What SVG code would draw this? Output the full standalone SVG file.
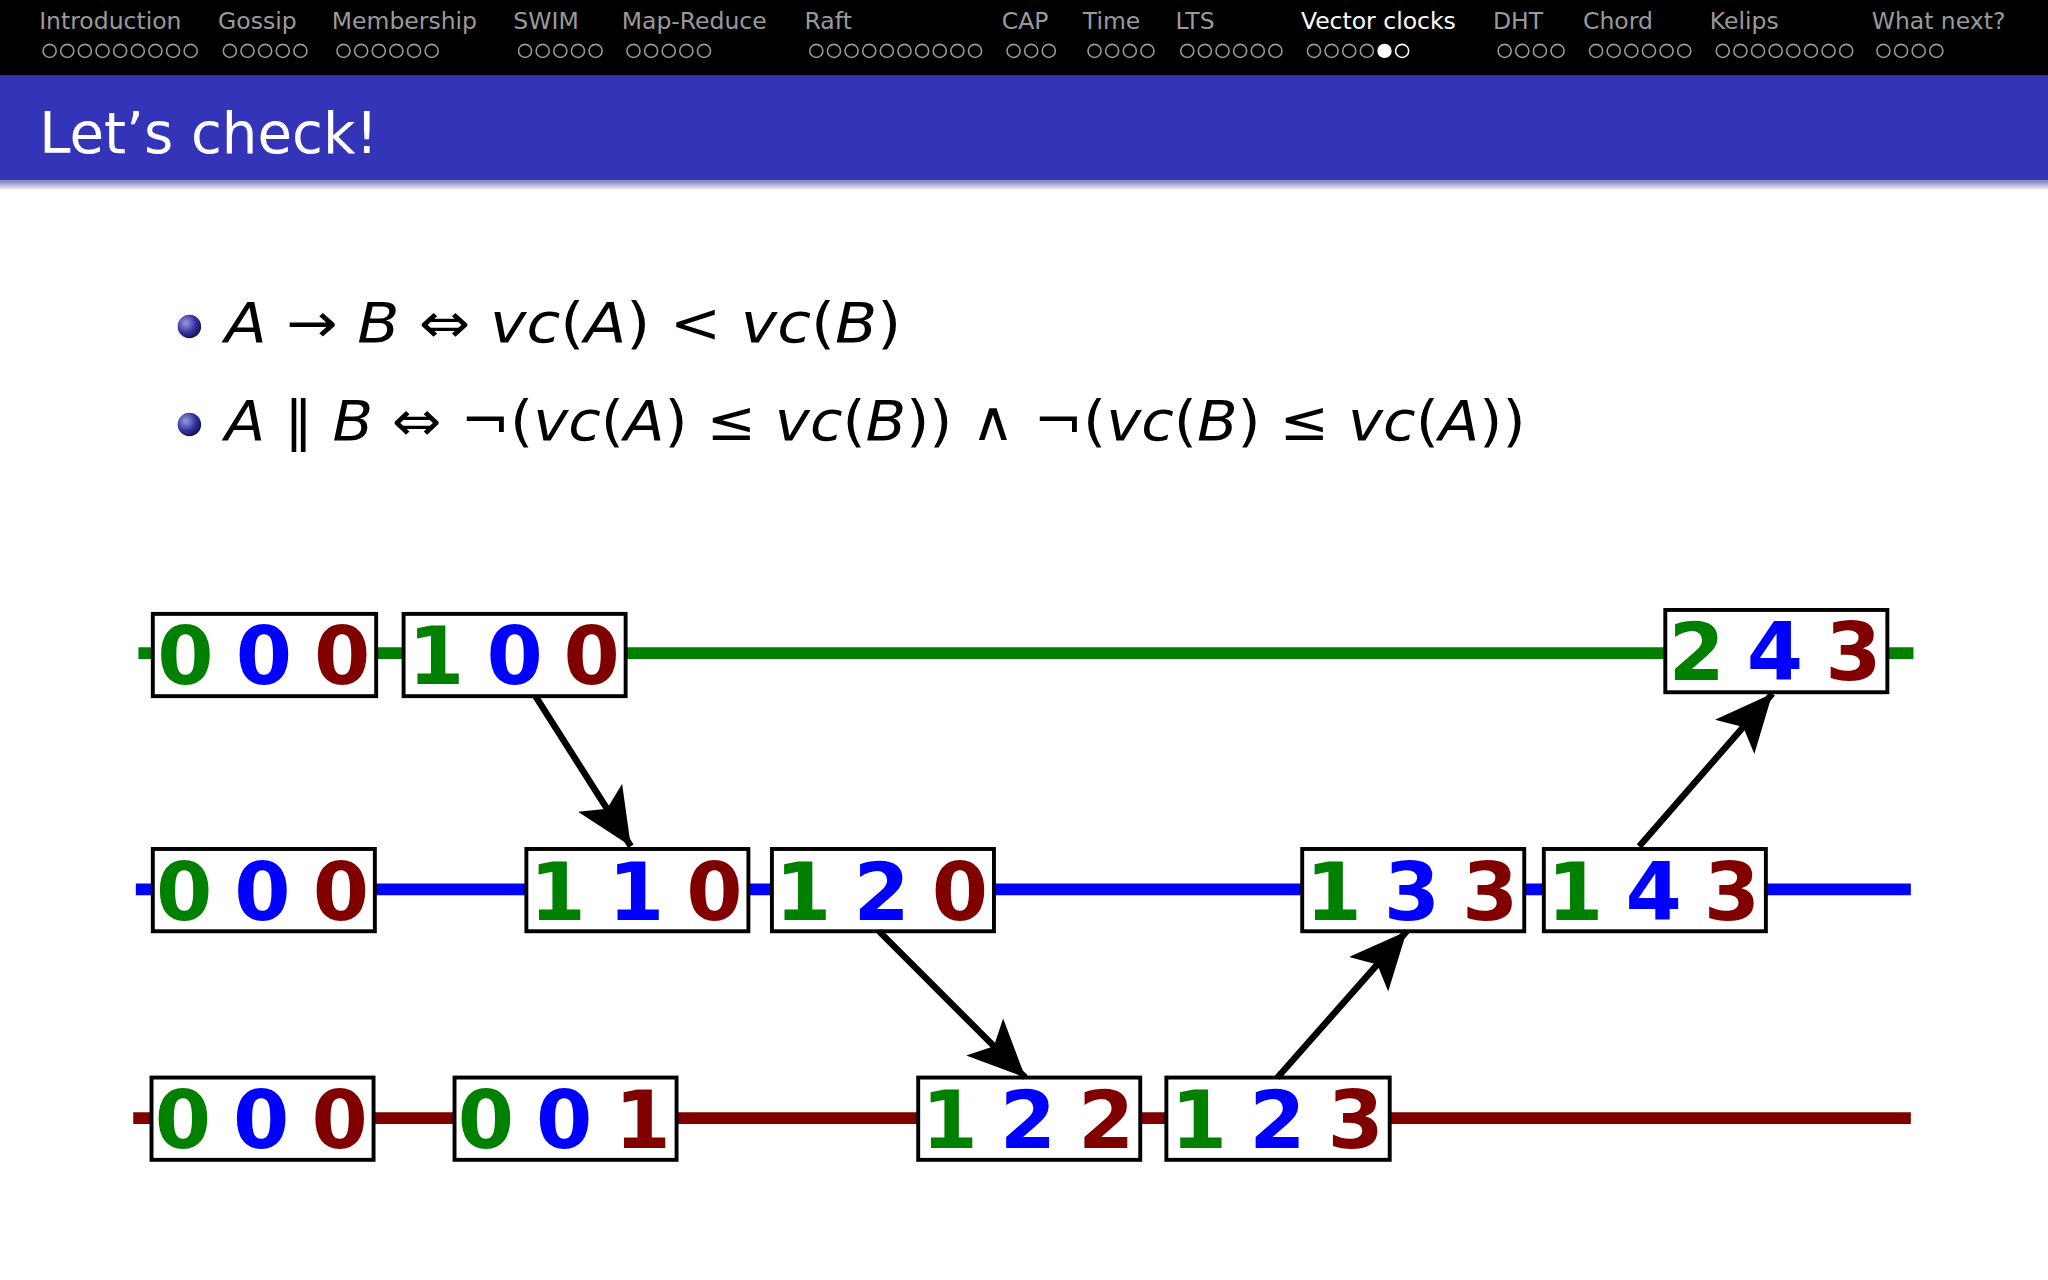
<svg xmlns="http://www.w3.org/2000/svg" width="2048" height="1280" viewBox="0 0 2048 1280">
<defs>
<style>
.nav{font-family:"DejaVu Sans",sans-serif;font-size:18px;fill:#9a9a9a}
.dot{fill:none;stroke:#9a9a9a;stroke-width:1.2}
.math{font-family:"DejaVu Sans",sans-serif;font-size:42px;fill:#000}
.it{font-style:italic}
.box{fill:#fff;stroke:#000;stroke-width:3}
.d{font-family:"DejaVu Sans",sans-serif;font-size:62px;font-weight:bold;text-anchor:middle}
.g{fill:#008000}.b{fill:#0000ff}.r{fill:#800000}
.arr{stroke:#000;stroke-width:5;fill:none;marker-end:url(#ah)}
</style>
<marker id="ah" markerUnits="userSpaceOnUse" markerWidth="50" markerHeight="44" refX="44" refY="20" orient="auto"><path d="M0,0 L44,20 L0,40 L10,20 Z" fill="#000"/></marker>
<linearGradient id="sh" x1="0" y1="0" x2="0" y2="1"><stop offset="0" stop-color="#7777bb"/><stop offset="1" stop-color="#fff"/></linearGradient>
<radialGradient id="ball" cx="0.35" cy="0.35" r="0.7"><stop offset="0" stop-color="#9a9ae0"/><stop offset="0.6" stop-color="#3333a0"/><stop offset="1" stop-color="#10104a"/></radialGradient>
</defs>
<rect width="2048" height="1280" fill="#fff"/>
<g transform="scale(1.30612)">
<g id="header">
<rect x="0" y="0" width="1568" height="58" fill="#000"/>
<text class="nav" x="30" y="22">Introduction</text>
<text class="nav" x="167" y="22">Gossip</text>
<text class="nav" x="254" y="22">Membership</text>
<text class="nav" x="393" y="22">SWIM</text>
<text class="nav" x="476" y="22">Map-Reduce</text>
<text class="nav" x="616" y="22">Raft</text>
<text class="nav" x="767" y="22">CAP</text>
<text class="nav" x="829" y="22">Time</text>
<text class="nav" x="900" y="22">LTS</text>
<text class="nav" x="996" y="22" style="fill:#fff">Vector clocks</text>
<text class="nav" x="1143" y="22">DHT</text>
<text class="nav" x="1212" y="22">Chord</text>
<text class="nav" x="1309" y="22">Kelips</text>
<text class="nav" x="1433" y="22">What next?</text>
<g class="dot">
<circle cx="38" cy="39" r="5"/><circle cx="51.5" cy="39" r="5"/><circle cx="65" cy="39" r="5"/><circle cx="78.5" cy="39" r="5"/><circle cx="92" cy="39" r="5"/><circle cx="105.5" cy="39" r="5"/><circle cx="119" cy="39" r="5"/><circle cx="132.5" cy="39" r="5"/><circle cx="146" cy="39" r="5"/>
<circle cx="176" cy="39" r="5"/><circle cx="189.5" cy="39" r="5"/><circle cx="203" cy="39" r="5"/><circle cx="216.5" cy="39" r="5"/><circle cx="230" cy="39" r="5"/>
<circle cx="263" cy="39" r="5"/><circle cx="276.5" cy="39" r="5"/><circle cx="290" cy="39" r="5"/><circle cx="303.5" cy="39" r="5"/><circle cx="317" cy="39" r="5"/><circle cx="330.5" cy="39" r="5"/>
<circle cx="402" cy="39" r="5"/><circle cx="415.5" cy="39" r="5"/><circle cx="429" cy="39" r="5"/><circle cx="442.5" cy="39" r="5"/><circle cx="456" cy="39" r="5"/>
<circle cx="485" cy="39" r="5"/><circle cx="498.5" cy="39" r="5"/><circle cx="512" cy="39" r="5"/><circle cx="525.5" cy="39" r="5"/><circle cx="539" cy="39" r="5"/>
<circle cx="625" cy="39" r="5"/><circle cx="638.5" cy="39" r="5"/><circle cx="652" cy="39" r="5"/><circle cx="665.5" cy="39" r="5"/><circle cx="679" cy="39" r="5"/><circle cx="692.5" cy="39" r="5"/><circle cx="706" cy="39" r="5"/><circle cx="719.5" cy="39" r="5"/><circle cx="733" cy="39" r="5"/><circle cx="746.5" cy="39" r="5"/>
<circle cx="776" cy="39" r="5"/><circle cx="789.5" cy="39" r="5"/><circle cx="803" cy="39" r="5"/>
<circle cx="838" cy="39" r="5"/><circle cx="851.5" cy="39" r="5"/><circle cx="865" cy="39" r="5"/><circle cx="878.5" cy="39" r="5"/>
<circle cx="909" cy="39" r="5"/><circle cx="922.5" cy="39" r="5"/><circle cx="936" cy="39" r="5"/><circle cx="949.5" cy="39" r="5"/><circle cx="963" cy="39" r="5"/><circle cx="976.5" cy="39" r="5"/>
<circle cx="1006" cy="39" r="5"/><circle cx="1019.5" cy="39" r="5"/><circle cx="1033" cy="39" r="5"/><circle cx="1046.5" cy="39" r="5"/><circle cx="1073.5" cy="39" r="5" style="stroke:#fff"/>
<circle cx="1152" cy="39" r="5"/><circle cx="1165.5" cy="39" r="5"/><circle cx="1179" cy="39" r="5"/><circle cx="1192.5" cy="39" r="5"/>
<circle cx="1222" cy="39" r="5"/><circle cx="1235.5" cy="39" r="5"/><circle cx="1249" cy="39" r="5"/><circle cx="1262.5" cy="39" r="5"/><circle cx="1276" cy="39" r="5"/><circle cx="1289.5" cy="39" r="5"/>
<circle cx="1319" cy="39" r="5"/><circle cx="1332.5" cy="39" r="5"/><circle cx="1346" cy="39" r="5"/><circle cx="1359.5" cy="39" r="5"/><circle cx="1373" cy="39" r="5"/><circle cx="1386.5" cy="39" r="5"/><circle cx="1400" cy="39" r="5"/><circle cx="1413.5" cy="39" r="5"/>
<circle cx="1442" cy="39" r="5"/><circle cx="1455.5" cy="39" r="5"/><circle cx="1469" cy="39" r="5"/><circle cx="1482.5" cy="39" r="5"/>
</g>
<circle cx="1060" cy="39" r="5.5" fill="#fff"/>
</g>
<g id="title">
<rect x="0" y="58" width="1568" height="80" fill="#3434b8"/>
<rect x="0" y="138" width="1568" height="8" fill="url(#sh)"/>
<text x="30" y="117" style="font-family:'DejaVu Sans',sans-serif;font-size:43px;fill:#fff">Let’s check!</text>
</g>
<g id="bullets">
<circle cx="145" cy="250" r="9" fill="url(#ball)"/>
<circle cx="145" cy="325" r="9" fill="url(#ball)"/>
<text class="math" x="172" y="262" textLength="518" lengthAdjust="spacingAndGlyphs"><tspan class="it">A</tspan> → <tspan class="it">B</tspan> ⇔ <tspan class="it">vc</tspan>(<tspan class="it">A</tspan>) &lt; <tspan class="it">vc</tspan>(<tspan class="it">B</tspan>)</text>
<text class="math" x="172" y="337" textLength="996" lengthAdjust="spacingAndGlyphs"><tspan class="it">A</tspan> ∥ <tspan class="it">B</tspan> ⇔ ¬(<tspan class="it">vc</tspan>(<tspan class="it">A</tspan>) ≤ <tspan class="it">vc</tspan>(<tspan class="it">B</tspan>)) ∧ ¬(<tspan class="it">vc</tspan>(<tspan class="it">B</tspan>) ≤ <tspan class="it">vc</tspan>(<tspan class="it">A</tspan>))</text>
</g>
<g id="timelines">
<line x1="106" y1="500" x2="1465" y2="500" stroke="#008000" stroke-width="9"/>
<line x1="104" y1="681" x2="1463" y2="681" stroke="#0000ff" stroke-width="9"/>
<line x1="102" y1="856" x2="1463" y2="856" stroke="#800000" stroke-width="9"/>
</g>
<g id="g0"><rect class="box" x="117" y="470" width="171" height="63"/><text class="d g" x="142" y="524">0</text><text class="d b" x="202" y="524">0</text><text class="d r" x="262" y="524">0</text></g>
<g id="g1"><rect class="box" x="309" y="470" width="170" height="63"/><text class="d g" x="334" y="524">1</text><text class="d b" x="394" y="524">0</text><text class="d r" x="453" y="524">0</text></g>
<g id="g2"><rect class="box" x="1275" y="467" width="170" height="63"/><text class="d g" x="1299" y="521">2</text><text class="d b" x="1359" y="521">4</text><text class="d r" x="1419" y="521">3</text></g>
<g id="b0"><rect class="box" x="117" y="650" width="170" height="63"/><text class="d g" x="141" y="704">0</text><text class="d b" x="201" y="704">0</text><text class="d r" x="261" y="704">0</text></g>
<g id="b1"><rect class="box" x="403" y="650" width="170" height="63"/><text class="d g" x="427" y="704">1</text><text class="d b" x="487" y="704">1</text><text class="d r" x="547" y="704">0</text></g>
<g id="b2"><rect class="box" x="591" y="650" width="170" height="63"/><text class="d g" x="615" y="704">1</text><text class="d b" x="675" y="704">2</text><text class="d r" x="735" y="704">0</text></g>
<g id="b3"><rect class="box" x="997" y="650" width="170" height="63"/><text class="d g" x="1021" y="704">1</text><text class="d b" x="1081" y="704">3</text><text class="d r" x="1141" y="704">3</text></g>
<g id="b4"><rect class="box" x="1182" y="650" width="170" height="63"/><text class="d g" x="1206" y="704">1</text><text class="d b" x="1266" y="704">4</text><text class="d r" x="1326" y="704">3</text></g>
<g id="r0"><rect class="box" x="116" y="825" width="170" height="63"/><text class="d g" x="140" y="879">0</text><text class="d b" x="200" y="879">0</text><text class="d r" x="260" y="879">0</text></g>
<g id="r1"><rect class="box" x="348" y="825" width="170" height="63"/><text class="d g" x="372" y="879">0</text><text class="d b" x="432" y="879">0</text><text class="d r" x="492" y="879">1</text></g>
<g id="r2"><rect class="box" x="703" y="825" width="170" height="63"/><text class="d g" x="727" y="879">1</text><text class="d b" x="787" y="879">2</text><text class="d r" x="847" y="879">2</text></g>
<g id="r3"><rect class="box" x="893" y="825" width="171" height="63"/><text class="d g" x="918" y="879">1</text><text class="d b" x="978" y="879">2</text><text class="d r" x="1038" y="879">3</text></g>
<g id="connectors">
<line class="arr" x1="410" y1="533" x2="483" y2="648"/>
<line class="arr" x1="673" y1="713" x2="785" y2="825"/>
<line class="arr" x1="978" y1="825" x2="1077" y2="713"/>
<line class="arr" x1="1255" y1="648" x2="1357" y2="531"/>
</g>
</g>
</svg>
